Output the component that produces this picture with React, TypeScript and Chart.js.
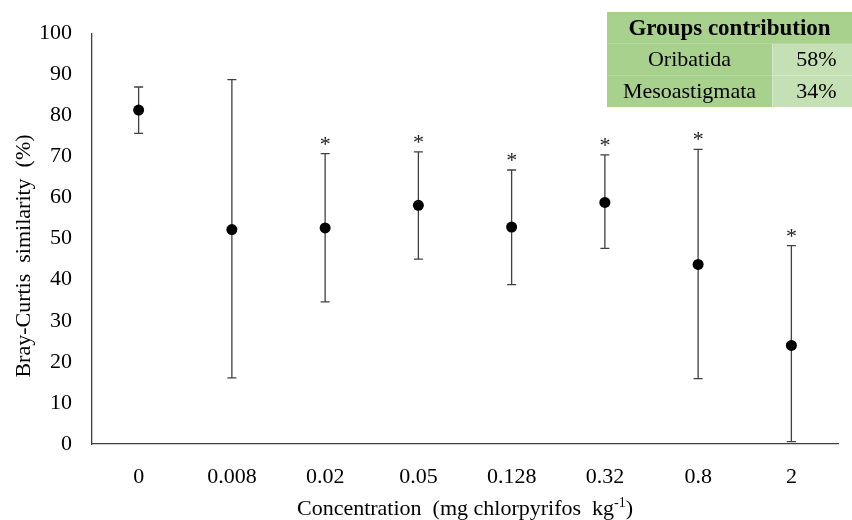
import React, { useEffect, useRef } from "react";
import { Chart, registerables } from "chart.js";

Chart.register(...registerables);

const categories = ["0", "0.008", "0.02", "0.05", "0.128", "0.32", "0.8", "2"];
const means = [81.3, 52.2, 52.6, 58.1, 52.8, 58.8, 43.7, 24.0];
const upper = [86.9, 88.7, 70.7, 71.1, 66.7, 70.4, 71.7, 48.3];
const lower = [75.6, 16.1, 34.6, 45.0, 38.8, 47.6, 15.9, 0.6];
const significant = [false, false, true, true, true, true, true, true];
const yTicks = [0, 10, 20, 30, 40, 50, 60, 70, 80, 90, 100];
const yTitle = "Bray-Curtis  similarity  (%)";
const xTitleMain = "Concentration  (mg chlorpyrifos  kg";
const xTitleSup = "-1";
const xTitleEnd = ")";
const tableHeader = "Groups contribution";
const groupNames = ["Oribatida", "Mesoastigmata"];
const groupShares = ["58%", "34%"];

const FONT = "'Liberation Serif', 'Times New Roman', serif";

const errorBarPlugin = {
  id: "errorBars",
  beforeDatasetsDraw(chart: any) {
    const { ctx, scales } = chart;
    const x = scales.x;
    const y = scales.y;
    ctx.save();
    ctx.strokeStyle = "#404040";
    ctx.lineWidth = 1.3;
    for (let i = 0; i < categories.length; i++) {
      const px = x.getPixelForValue(i);
      const pt = y.getPixelForValue(upper[i]);
      const pb = y.getPixelForValue(lower[i]);
      ctx.beginPath();
      ctx.moveTo(px, pt);
      ctx.lineTo(px, pb);
      ctx.moveTo(px - 4.5, pt);
      ctx.lineTo(px + 4.5, pt);
      ctx.moveTo(px - 4.5, pb);
      ctx.lineTo(px + 4.5, pb);
      ctx.stroke();
    }
    ctx.restore();
  },
  afterDatasetsDraw(chart: any) {
    const { ctx, scales } = chart;
    const x = scales.x;
    const y = scales.y;
    ctx.save();
    ctx.fillStyle = "#222";
    ctx.font = `22px ${FONT}`;
    ctx.textAlign = "center";
    ctx.textBaseline = "alphabetic";
    for (let i = 0; i < categories.length; i++) {
      if (!significant[i]) continue;
      const px = x.getPixelForValue(i);
      const pt = y.getPixelForValue(upper[i]);
      const m = ctx.measureText("*");
      const a = m.actualBoundingBoxAscent;
      const d = m.actualBoundingBoxDescent;
      const center = pt - 13;
      ctx.fillText("*", px, center + (a - d) / 2);
    }
    ctx.restore();
  },
  afterDraw(chart: any) {
    const { ctx, chartArea } = chart;
    ctx.save();
    ctx.fillStyle = "#000";
    ctx.font = `22px ${FONT}`;
    ctx.translate(24, 256);
    ctx.rotate(-Math.PI / 2);
    ctx.textAlign = "center";
    ctx.textBaseline = "middle";
    ctx.fillText(yTitle, 0, 0);
    ctx.restore();

    ctx.save();
    ctx.fillStyle = "#000";
    ctx.textBaseline = "alphabetic";
    ctx.font = `22px ${FONT}`;
    const w1 = ctx.measureText(xTitleMain).width;
    const w3 = ctx.measureText(xTitleEnd).width;
    ctx.font = `14px ${FONT}`;
    const w2 = ctx.measureText(xTitleSup).width;
    const total = w1 + w2 + w3;
    const cx = (chartArea.left + chartArea.right) / 2;
    let sx = cx - total / 2;
    const base = 515;
    ctx.font = `22px ${FONT}`;
    ctx.fillText(xTitleMain, sx, base);
    sx += w1;
    ctx.font = `14px ${FONT}`;
    ctx.fillText(xTitleSup, sx, base - 8);
    sx += w2;
    ctx.font = `22px ${FONT}`;
    ctx.fillText(xTitleEnd, sx, base);
    ctx.restore();
  },
};

function GroupsTable() {
  const cell: React.CSSProperties = {
    position: "absolute",
    display: "flex",
    alignItems: "center",
    justifyContent: "center",
    fontFamily: FONT,
    fontSize: 22,
    color: "#000",
    boxSizing: "border-box",
    whiteSpace: "nowrap",
  };
  const rows = [44, 75.5];
  return (
    <div style={{ position: "absolute", left: 607, top: 12, width: 245, height: 95 }}>
      <div
        style={{
          ...cell,
          left: 0,
          top: 0,
          width: 245,
          height: 32,
          background: "#a9d18e",
          fontWeight: "bold",
          fontSize: 23,
          borderBottom: "1px solid #b7d9a0",
        }}
      >
        {tableHeader}
      </div>
      {groupNames.map((g, i) => (
        <React.Fragment key={g}>
          <div
            style={{
              ...cell,
              left: 0,
              top: rows[i] - 12,
              width: 165,
              height: 31.5,
              background: "#a9d18e",
              borderBottom: i === 0 ? "1px solid #b7d9a0" : "none",
            }}
          >
            {g}
          </div>
          <div
            style={{
              ...cell,
              left: 165,
              top: rows[i] - 12,
              width: 80,
              height: 31.5,
              background: "#c5e0b4",
              paddingLeft: 8,
              borderLeft: "1px solid #d3e8c6",
              borderBottom: i === 0 ? "1px solid #d3e8c6" : "none",
            }}
          >
            {groupShares[i]}
          </div>
        </React.Fragment>
      ))}
    </div>
  );
}

export default function App() {
  const canvasRef = useRef<HTMLCanvasElement | null>(null);

  useEffect(() => {
    if (!canvasRef.current) return;
    const chart = new Chart(canvasRef.current, {
      type: "line",
      data: {
        labels: categories,
        datasets: [
          {
            data: means,
            showLine: false,
            pointRadius: 5.5,
            pointHoverRadius: 5.5,
            pointBackgroundColor: "#000",
            pointBorderWidth: 0,
            borderColor: "#000",
          },
        ],
      },
      options: {
        responsive: false,
        animation: false,
        events: [],
        layout: { padding: { top: 28, right: 14, left: 0, bottom: 0 } },
        plugins: {
          legend: { display: false },
          tooltip: { enabled: false },
          title: { display: false },
        },
        scales: {
          x: {
            type: "category",
            offset: true,
            grid: { display: false, drawTicks: false, offset: true },
            border: { display: true, color: "#404040", width: 1.3 },
            ticks: {
              color: "#000",
              font: { family: FONT, size: 22 },
              padding: 20,
              maxRotation: 0,
              autoSkip: false,
            },
            afterFit(scale: any) {
              scale.height = 76;
            },
          },
          y: {
            min: 0,
            max: 100,
            afterBuildTicks(scale: any) {
              scale.ticks = yTicks.map((v) => ({ value: v }));
            },
            grid: { display: false, drawTicks: false },
            border: { display: true, color: "#404040", width: 1.3 },
            ticks: {
              color: "#000",
              font: { family: FONT, size: 22 },
              padding: 20,
            },
            afterFit(scale: any) {
              scale.width = 92;
            },
          },
        },
      },
      plugins: [errorBarPlugin],
    } as any);
    return () => chart.destroy();
  }, []);

  return (
    <div style={{ position: "fixed", left: 0, top: 0, width: 852, height: 520, background: "#fff" }}>
      <canvas ref={canvasRef} width={852} height={520} style={{ display: "block" }} />
      <GroupsTable />
    </div>
  );
}
